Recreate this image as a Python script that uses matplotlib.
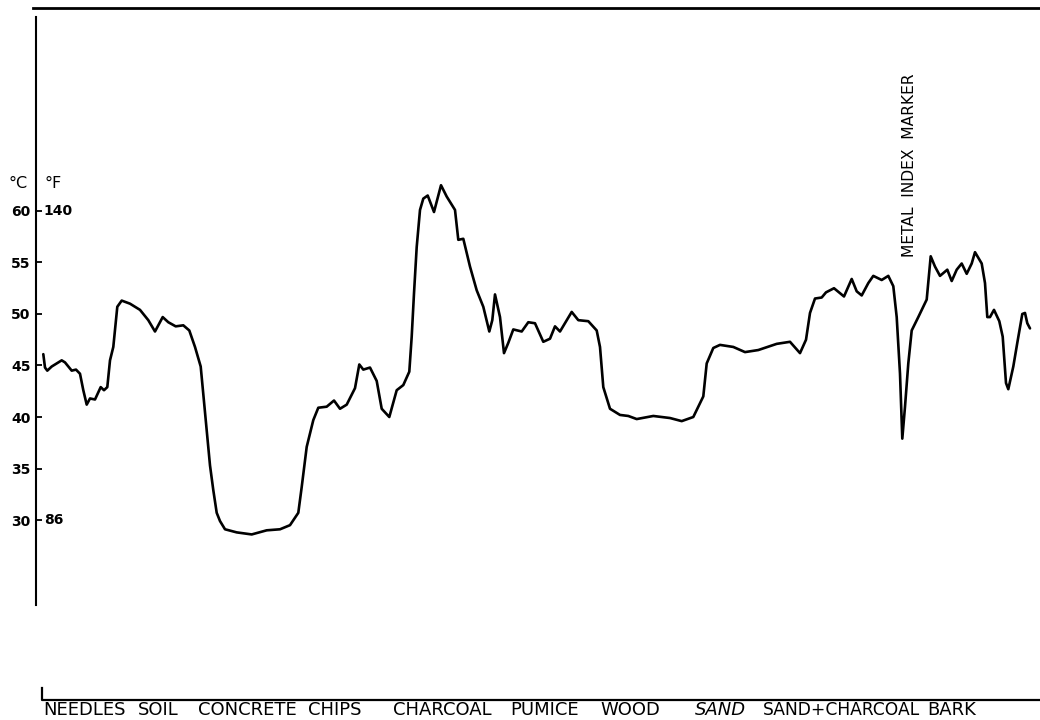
import matplotlib
matplotlib.use("Agg")
import matplotlib.pyplot as plt
from matplotlib.lines import Line2D
from matplotlib.transforms import blended_transform_factory

# ── Traverse data: distance along the run vs. surface temperature (°C) ──────

position = [
    7.3, 9, 11.3, 15.7, 25.7, 29, 35.7, 40, 44, 47.3,
    50.7, 54, 59, 64.7, 68, 71.3, 74, 77.3, 81.3, 85.7,
    94, 104, 112.3, 119, 126.7, 132.3, 139.7, 147.3, 153.3, 159,
    164.7, 169, 174, 177.3, 180.7, 184, 189, 200.7, 215.7, 230.7,
    244, 254, 262.3, 265.7, 270.7, 277.3, 282.3, 290.7, 298, 304,
    310.7, 319, 323.3, 327.3, 334, 340.7, 345.7, 353.3, 360.7, 367.3,
    373.3, 375.7, 378, 380.7, 384, 387.3, 391.7, 398, 405, 410.7,
    419, 422.3, 427.3, 434, 440.7, 447.3, 453.3, 456.3, 459, 464,
    468, 472.3, 477.3, 485.7, 492.3, 499, 507.3, 514, 519, 524,
    535.7, 542.3, 552.3, 560.7, 564, 567.3, 574, 584, 592.3, 600.7,
    617.3, 634, 645.7, 657.3, 667.3, 670.7, 677.3, 684, 697.3, 709,
    722.3, 740.7, 754, 764, 770, 774, 779, 785.7, 790, 798,
    808, 815.7, 820.7, 825.7, 832.3, 837.3, 845.7, 852.3, 857.3, 860.7,
    864, 866.3, 869, 872.3, 875.7, 882.3, 890.7, 894.7, 899, 904,
    911.3, 915.7, 920.7, 925.7, 930.7, 935.7, 939, 945.7, 949, 951.3,
    954, 958, 963.3, 966.7, 970, 972.3, 977.3, 981.3, 986.3, 989,
    991.3, 994,
]

temp_c = [
    46.1, 44.8, 44.5, 44.9, 45.5, 45.3, 44.5, 44.6, 44.2, 42.6,
    41.2, 41.8, 41.7, 42.9, 42.6, 42.9, 45.5, 46.8, 50.7, 51.3,
    51.0, 50.4, 49.4, 48.3, 49.7, 49.2, 48.8, 48.9, 48.4, 46.8,
    44.9, 40.5, 35.3, 32.9, 30.7, 29.9, 29.1, 28.8, 28.6, 29.0,
    29.1, 29.5, 30.7, 33.2, 37.1, 39.7, 40.9, 41.0, 41.6, 40.8,
    41.2, 42.8, 45.1, 44.6, 44.8, 43.5, 40.8, 40.0, 42.6, 43.1,
    44.4, 47.8, 52.0, 56.5, 60.1, 61.2, 61.5, 59.9, 62.5, 61.4,
    60.1, 57.2, 57.3, 54.6, 52.3, 50.7, 48.3, 49.4, 51.9, 49.7,
    46.2, 47.2, 48.5, 48.3, 49.2, 49.1, 47.3, 47.6, 48.8, 48.3,
    50.2, 49.4, 49.3, 48.4, 46.8, 42.9, 40.8, 40.2, 40.1, 39.8,
    40.1, 39.9, 39.6, 40.0, 42.0, 45.2, 46.7, 47.0, 46.8, 46.3,
    46.5, 47.1, 47.3, 46.2, 47.5, 50.1, 51.5, 51.6, 52.1, 52.5,
    51.7, 53.4, 52.2, 51.8, 53.0, 53.7, 53.3, 53.7, 52.7, 49.7,
    44.2, 37.9, 41.0, 45.2, 48.4, 49.7, 51.4, 55.6, 54.6, 53.7,
    54.3, 53.2, 54.3, 54.9, 53.9, 54.9, 56.0, 54.9, 53.0, 49.7,
    49.7, 50.4, 49.3, 47.8, 43.3, 42.7, 44.9, 47.2, 50.0, 50.1,
    49.1, 48.6,
]

substrates = ["NEEDLES", "SOIL", "CONCRETE", "CHIPS", "CHARCOAL",
              "PUMICE", "WOOD", "SAND", "SAND+CHARCOAL", "BARK"]
substrate_start = [7, 102, 162, 272, 357, 474, 564, 659, 727, 891]

c_ticks = [30, 35, 40, 45, 50, 55, 60]
f_labels = {60: "140", 30: "86"}

marker_pos = 874
marker_text = "METAL  INDEX  MARKER"

# ── Figure (laid out in pixel units) ─────────────────────────────────────────

W, H = 1040, 720


def fx(px):
    return px / W


def fy(py):
    return 1 - py / H


fig = plt.figure(figsize=(W / 100, H / 100), dpi=100)
fig.patch.set_facecolor("white")

ax = fig.add_axes([fx(36), fy(605), fx(1040) - fx(36), fy(17) - fy(605)])
ax.set_xlim(0, 1004)
ax.set_ylim(21.75, 78.83)
for side in ("top", "right", "bottom"):
    ax.spines[side].set_visible(False)
ax.spines["left"].set_linewidth(1.5)
ax.set_xticks([])
ax.set_yticks(c_ticks)
ax.set_yticklabels([str(t) for t in c_ticks], fontsize=10, fontweight="bold")
ax.tick_params(axis="y", direction="in", length=4, width=1.3, pad=4)

# Fahrenheit equivalents beside the top and bottom ticks
for c, f in f_labels.items():
    ax.annotate(f, xy=(0, c), xycoords=("axes fraction", "data"),
                xytext=(5.5, 0), textcoords="offset points",
                ha="left", va="center", fontsize=10, fontweight="bold")

fig.text(fx(9), fy(183), "°C", ha="left", va="center", fontsize=11.5)
fig.text(fx(44), fy(183), "°F", ha="left", va="center", fontsize=11.5)

# Temperature trace
ax.plot(position, temp_c, color="black", linewidth=1.9,
        solid_joinstyle="round", solid_capstyle="round")

# Frame lines: top rule and bottom baseline
fig.add_artist(Line2D([fx(33), 1], [fy(7.5), fy(7.5)],
                      color="black", linewidth=2))
fig.add_artist(Line2D([fx(42), fx(42), 1], [fy(688), fy(700), fy(700)],
                      color="black", linewidth=1.6))

# Substrate names along the bottom (the long mixed label is set tighter)
trans = blended_transform_factory(ax.transData, fig.transFigure)
for name, x0 in zip(substrates, substrate_start):
    size = 12.3 if len(name) > 10 else 13
    ax.text(x0, fy(715), name, transform=trans, ha="left", va="baseline",
            fontsize=size, style="italic" if name == "SAND" else "normal")

ax.text(marker_pos, fy(257), marker_text, transform=trans, rotation=90,
        ha="center", va="bottom", fontsize=11.2)

fig.savefig("out.png", dpi=100, facecolor="white")
plt.close(fig)
